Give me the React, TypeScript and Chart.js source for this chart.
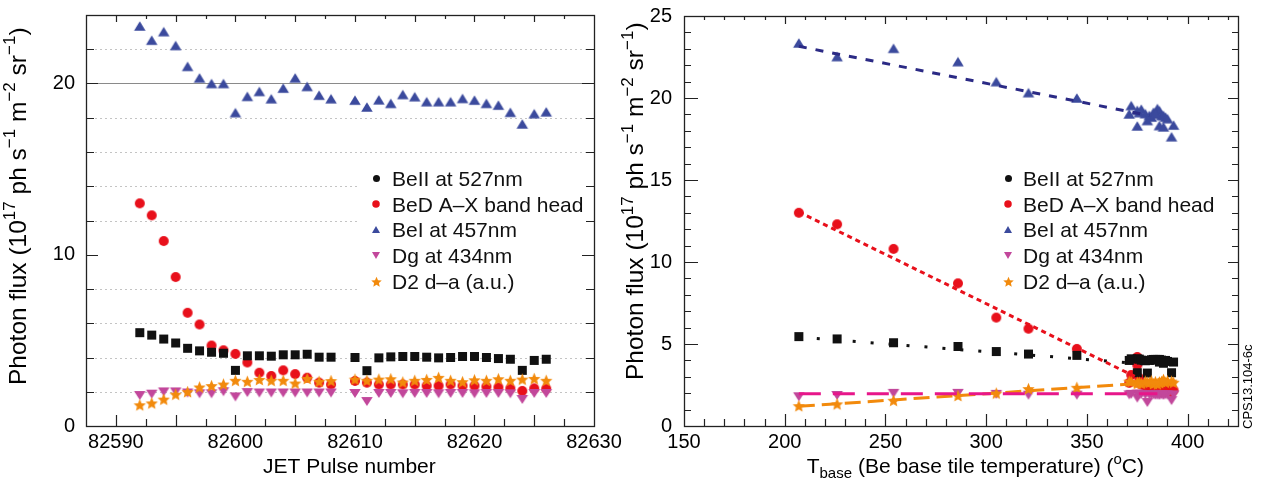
import React, { useEffect, useRef } from 'react';
import { Chart, registerables } from 'chart.js';
Chart.register(...registerables);

// ---------------- data ----------------
const pulses = [82592, 82593, 82594, 82595, 82596, 82597, 82598, 82599, 82600, 82601, 82602, 82603, 82604, 82605, 82606, 82607, 82608,
  82610, 82611, 82612, 82613, 82614, 82615, 82616, 82617, 82618, 82619, 82620, 82621, 82622, 82623, 82624, 82625, 82626];
// base tile temperature of each pulse (null: pulse not shown in the temperature panel)
const tBase: (number | null)[] = [207, 226, 254, 286, 305, 321, 345, null, 375, 375, 372, 376, null, null, null, 377, 384,
  371, 380, 379, 382, 385, 386, 387, 388, 381, 383, 384, 389, 390, 386, 392, 388, 393];
const beII = [5.45, 5.31, 5.08, 4.85, 4.54, 4.39, 4.31, 4.25, 3.25, 4.10, 4.10, 4.08, 4.16, 4.16, 4.19, 4.02, 4.02,
  4.00, 3.23, 3.98, 4.04, 4.06, 4.06, 4.02, 3.98, 4.00, 4.06, 4.06, 4.00, 3.94, 3.90, 3.25, 3.83, 3.90];
const beD = [13.0, 12.3, 10.8, 8.7, 6.61, 5.93, 4.70, 4.42, 4.21, 3.71, 3.11, 2.92, 3.25, 3.03, 2.82, 2.53, 2.42,
  2.63, 2.53, 2.42, 2.42, 2.42, 2.42, 2.35, 2.35, 2.42, 2.35, 2.35, 2.30, 2.26, 2.20, 2.05, 2.20, 2.18];
const beI = [23.36, 22.53, 23.03, 22.22, 21.0, 20.33, 20.0, 20.0, 18.3, 19.25, 19.54, 19.11, 19.73, 20.33, 19.83, 19.32, 19.11,
  19.03, 18.63, 19.05, 18.84, 19.36, 19.23, 18.94, 18.94, 18.94, 19.13, 19.03, 18.84, 18.74, 18.32, 17.64, 18.24, 18.35];
const dg = [1.78, 1.86, 1.99, 1.99, 1.93, 1.88, 1.88, 2.0, 1.70, 1.95, 1.93, 1.93, 1.93, 1.93, 1.93, 1.93, 1.93,
  1.90, 1.43, 1.90, 1.90, 1.88, 1.90, 1.90, 1.88, 1.90, 1.90, 1.88, 1.90, 1.90, 1.88, 1.55, 1.90, 1.90];
const d2 = [1.24, 1.35, 1.57, 1.86, 2.01, 2.28, 2.36, 2.45, 2.67, 2.61, 2.72, 2.67, 2.67, 2.51, 2.78, 2.61, 2.65,
  2.74, 2.67, 2.74, 2.76, 2.57, 2.67, 2.72, 2.84, 2.67, 2.59, 2.70, 2.67, 2.76, 2.67, 2.74, 2.78, 2.67];

// linear fits (end points) on the temperature panel
const fitBeIT = [207, 381];
const fitBeIV = [23.15, 18.93];
const fitBeDT = [207, 375];
const fitBeDV = [13.05, 2.95];
const fitBeIIT = [207, 380];
const fitBeIIV = [5.42, 3.77];
const fitDgT = [207, 385];
const fitDgV = [1.97, 1.97];
const fitD2T = [207, 392];
const fitD2V = [1.2, 2.73];

const seriesNames = ['BeII at 527nm', 'BeD A\u2013X band head', 'BeI at 457nm', 'Dg at 434nm', 'D2 d\u2013a (a.u.)'];

const leftXTicks = [82590, 82600, 82610, 82620, 82630];
const leftYTicks = [0, 10, 20];
const rightXTicks = [150, 200, 250, 300, 350, 400];
const rightYTicks = [0, 5, 10, 15, 20, 25];
const leftGridDotted = [2, 4, 6, 8, 12, 14, 16, 18, 22];
const leftGridSolid = [20];

// ---------------- styling ----------------
const FONT = '"Liberation Sans", Arial, Helvetica, sans-serif';
const C_BLACK = '#111111';
const C_RED = '#e8101b';
const C_BLUE = '#3b4a9d';
const C_MAG = '#c2479b';
const C_ORANGE = '#f28a0c';
const C_BLUEFIT = '#2b2a85';
const C_MAGFIT = '#e7168a';

type Seg = { t: string; k?: 'sup' | 'sub' };

function marker(kind: string, color: string, w: number, h: number): HTMLCanvasElement {
  const c = document.createElement('canvas');
  c.width = Math.ceil(w) + 2;
  c.height = Math.ceil(h) + 2;
  const ctx = c.getContext('2d')!;
  const cx = c.width / 2;
  const cy = c.height / 2;
  ctx.fillStyle = color;
  ctx.beginPath();
  if (kind === 'square') {
    ctx.rect(cx - w / 2, cy - h / 2, w, h);
  } else if (kind === 'circle') {
    ctx.arc(cx, cy, w / 2, 0, Math.PI * 2);
  } else if (kind === 'up') {
    ctx.moveTo(cx, cy - h / 2);
    ctx.lineTo(cx + w / 2, cy + h / 2);
    ctx.lineTo(cx - w / 2, cy + h / 2);
    ctx.closePath();
  } else if (kind === 'down') {
    ctx.moveTo(cx, cy + h / 2);
    ctx.lineTo(cx + w / 2, cy - h / 2);
    ctx.lineTo(cx - w / 2, cy - h / 2);
    ctx.closePath();
  } else if (kind === 'star') {
    const R = w / 2;
    const r = R * 0.46;
    for (let i = 0; i < 10; i++) {
      const a = -Math.PI / 2 + (i * Math.PI) / 5;
      const rr = i % 2 === 0 ? R : r;
      const px = cx + rr * Math.cos(a);
      const py = cy + 0.8 + rr * Math.sin(a);
      if (i === 0) ctx.moveTo(px, py);
      else ctx.lineTo(px, py);
    }
    ctx.closePath();
  }
  ctx.fill();
  return c;
}

function drawRich(ctx: CanvasRenderingContext2D, segs: Seg[], x: number, y: number, size: number, rotate: boolean) {
  ctx.save();
  ctx.translate(x, y);
  if (rotate) ctx.rotate(-Math.PI / 2);
  ctx.fillStyle = '#000';
  ctx.textBaseline = 'alphabetic';
  ctx.textAlign = 'left';
  let cx = 0;
  for (const s of segs) {
    const fs = s.k ? Math.round(size * 0.7) : size;
    ctx.font = `${fs}px ${FONT}`;
    const dy = s.k === 'sup' ? -size * 0.42 : s.k === 'sub' ? size * 0.26 : 0;
    ctx.fillText(s.t, cx, dy);
    cx += ctx.measureText(s.t).width;
  }
  ctx.restore();
}

const yTitle: Seg[] = [
  { t: 'Photon flux (10' }, { t: '17', k: 'sup' }, { t: ' ph s' }, { t: '\u22121', k: 'sup' },
  { t: ' m' }, { t: '\u22122', k: 'sup' }, { t: ' sr' }, { t: '\u22121', k: 'sup' }, { t: ')' },
];
const xTitleLeft: Seg[] = [{ t: 'JET Pulse number' }];
const xTitleRight: Seg[] = [
  { t: 'T' }, { t: 'base', k: 'sub' }, { t: ' (Be base tile temperature) (' }, { t: 'o', k: 'sup' }, { t: 'C)' },
];

interface TickSpec {
  xFrom: number; xTo: number; xStep: number; xMajor: number;
  xBot: [number, number]; xTop: [number, number];
  yFrom: number; yTo: number; yStep: number; yMajor: number;
  yLeft: [number, number]; yRight: [number, number];
}

function drawFrameTicks(chart: any, spec: TickSpec) {
  const ctx: CanvasRenderingContext2D = chart.ctx;
  const a = chart.chartArea;
  const xs = chart.scales.x;
  const ys = chart.scales.y;
  ctx.save();
  ctx.strokeStyle = '#222';
  ctx.lineWidth = 1.2;
  ctx.beginPath();
  for (let v = spec.xFrom; v <= spec.xTo + 1e-6; v += spec.xStep) {
    const px = Math.round(xs.getPixelForValue(v)) + 0.5;
    const maj = Math.abs(v / spec.xMajor - Math.round(v / spec.xMajor)) < 1e-6;
    const lb = maj ? spec.xBot[0] : spec.xBot[1];
    const lt = maj ? spec.xTop[0] : spec.xTop[1];
    ctx.moveTo(px, a.bottom);
    ctx.lineTo(px, a.bottom - lb);
    ctx.moveTo(px, a.top);
    ctx.lineTo(px, a.top + lt);
  }
  for (let v = spec.yFrom; v <= spec.yTo + 1e-6; v += spec.yStep) {
    const py = Math.round(ys.getPixelForValue(v)) + 0.5;
    const maj = Math.abs(v / spec.yMajor - Math.round(v / spec.yMajor)) < 1e-6;
    const ll = maj ? spec.yLeft[0] : spec.yLeft[1];
    const lr = maj ? spec.yRight[0] : spec.yRight[1];
    ctx.moveTo(a.left, py);
    ctx.lineTo(a.left + ll, py);
    ctx.moveTo(a.right, py);
    ctx.lineTo(a.right - lr, py);
  }
  ctx.stroke();
  ctx.lineWidth = 1.3;
  ctx.strokeRect(Math.round(a.left) + 0.5, Math.round(a.top) + 0.5, Math.round(a.right - a.left), Math.round(a.bottom - a.top));
  ctx.restore();
}

const legendMarkers = () => [
  marker('circle', C_BLACK, 7, 7),
  marker('circle', C_RED, 7.5, 7.5),
  marker('up', C_BLUE, 8, 7),
  marker('down', C_MAG, 8, 7),
  marker('star', C_ORANGE, 11, 11),
];

function drawLegend(ctx: CanvasRenderingContext2D, mx: number, tx: number, box: number[] | null) {
  const rows = [178.3, 204.1, 229.9, 255.7, 281.5];
  const mk = legendMarkers();
  ctx.save();
  if (box) {
    ctx.fillStyle = '#ffffff';
    ctx.fillRect(box[0], box[1], box[2], box[3]);
  }
  ctx.font = `21px ${FONT}`;
  ctx.fillStyle = '#111';
  ctx.textBaseline = 'alphabetic';
  ctx.textAlign = 'left';
  rows.forEach((ry, i) => {
    const m = mk[i];
    ctx.drawImage(m, Math.round(mx - m.width / 2), Math.round(ry - m.height / 2));
    ctx.fillText(seriesNames[i], tx, ry + 7.5);
  });
  ctx.restore();
}

function pointSet(label: string, xs: (number | null)[], ys: number[], style: HTMLCanvasElement, order: number) {
  const data: { x: number; y: number }[] = [];
  xs.forEach((x, i) => {
    if (x !== null) data.push({ x, y: ys[i] });
  });
  return {
    label,
    data,
    pointStyle: style,
    pointRadius: 5,
    showLine: false,
    order,
  };
}

function fitSet(xs: number[], ys: number[], color: string, dash: number[]) {
  return {
    label: 'fit',
    data: xs.map((x, i) => ({ x, y: ys[i] })),
    showLine: true,
    pointRadius: 0,
    borderColor: color,
    borderWidth: 3,
    borderDash: dash,
    borderCapStyle: 'butt',
    fill: false,
    order: -1,
  };
}

function tickFont() {
  return { family: FONT, size: 20 };
}

export default function App() {
  const leftRef = useRef<HTMLCanvasElement>(null);
  const rightRef = useRef<HTMLCanvasElement>(null);

  useEffect(() => {
    const mSquare = marker('square', C_BLACK, 9, 9);
    const mCircle = marker('circle', C_RED, 10, 10);
    const mUp = marker('up', C_BLUE, 11.5, 9.5);
    const mDown = marker('down', C_MAG, 11.5, 9);
    const mStar = marker('star', C_ORANGE, 13, 13);

    const leftDeco = {
      id: 'leftDeco',
      beforeDatasetsDraw(chart: any) {
        const ctx: CanvasRenderingContext2D = chart.ctx;
        const ys = chart.scales.y;
        const a = chart.chartArea;
        ctx.save();
        ctx.strokeStyle = '#c4c4c4';
        ctx.lineWidth = 1;
        ctx.setLineDash([2, 3]);
        ctx.beginPath();
        leftGridDotted.forEach((v) => {
          const py = Math.round(ys.getPixelForValue(v)) + 0.5;
          ctx.moveTo(a.left + 9, py);
          ctx.lineTo(a.right - 4, py);
        });
        ctx.stroke();
        ctx.setLineDash([]);
        ctx.strokeStyle = '#8a8a8a';
        ctx.beginPath();
        leftGridSolid.forEach((v) => {
          const py = Math.round(ys.getPixelForValue(v)) + 0.5;
          ctx.moveTo(a.left, py);
          ctx.lineTo(a.right, py);
        });
        ctx.stroke();
        ctx.restore();
      },
      afterDatasetsDraw(chart: any) {
        drawLegend(chart.ctx, 376, 392, [360, 165, 227, 131]);
      },
      afterDraw(chart: any) {
        drawFrameTicks(chart, {
          xFrom: 82590, xTo: 82627.5, xStep: 2.5, xMajor: 5,
          xBot: [11, 7], xTop: [7, 4],
          yFrom: 2, yTo: 22, yStep: 2, yMajor: 10,
          yLeft: [12, 8], yRight: [12, 8],
        });
        drawRich(chart.ctx, yTitle, 25.5, 385, 24.5, true);
        drawRich(chart.ctx, xTitleLeft, 263, 473, 21, false);
      },
    };

    const rightDeco = {
      id: 'rightDeco',
      afterDatasetsDraw(chart: any) {
        drawLegend(chart.ctx, 408, 423, null);
      },
      afterDraw(chart: any) {
        drawFrameTicks(chart, {
          xFrom: 160, xTo: 420, xStep: 10, xMajor: 50,
          xBot: [12, 7], xTop: [8, 4],
          yFrom: 1, yTo: 24, yStep: 1, yMajor: 5,
          yLeft: [14, 7], yRight: [10, 6],
        });
        drawRich(chart.ctx, yTitle, 43, 380, 24.5, true);
        drawRich(chart.ctx, xTitleRight, 206.7, 473, 21, false);
        drawRich(chart.ctx, [{ t: 'CPS13.104-6c' }], 651.5, 429, 13, true);
      },
    };

    const xTickOpts = { autoSkip: false, maxRotation: 0, padding: -4, color: '#000', font: tickFont(), callback: (v: any) => String(v) };

    const left = new Chart(leftRef.current!, {
      type: 'scatter',
      data: {
        datasets: [
          pointSet(seriesNames[4], pulses, d2, mStar, 0),
          pointSet(seriesNames[3], pulses, dg, mDown, 1),
          pointSet(seriesNames[2], pulses, beI, mUp, 2),
          pointSet(seriesNames[0], pulses, beII, mSquare, 3),
          pointSet(seriesNames[1], pulses, beD, mCircle, 4),
        ] as any,
      },
      options: {
        animation: false,
        responsive: false,
        devicePixelRatio: 1,
        layout: { padding: { left: 0, right: 46, top: 13, bottom: 0 } },
        plugins: { legend: { display: false }, tooltip: { enabled: false } },
        scales: {
          x: {
            type: 'linear', min: 82587.5, max: 82630,
            grid: { display: false }, border: { display: false },
            afterBuildTicks: (s: any) => { s.ticks = leftXTicks.map((v) => ({ value: v })); },
            afterFit: (s: any) => { s.height = 58; },
            ticks: xTickOpts,
          },
          y: {
            type: 'linear', min: 0, max: 24,
            grid: { display: false }, border: { display: false },
            afterBuildTicks: (s: any) => { s.ticks = leftYTicks.map((v) => ({ value: v })); },
            afterFit: (s: any) => { s.width = 86; },
            ticks: { autoSkip: false, padding: 3, color: '#000', font: tickFont(), callback: (v: any) => String(v) },
          },
        },
      } as any,
      plugins: [leftDeco],
    });

    const right = new Chart(rightRef.current!, {
      type: 'scatter',
      data: {
        datasets: [
          fitSet(fitBeIT, fitBeIV, C_BLUEFIT, [8, 9]),
          fitSet(fitBeDT, fitBeDV, C_RED, [5, 4]),
          fitSet(fitBeIIT, fitBeIIV, C_BLACK, [3, 15]),
          fitSet(fitDgT, fitDgV, C_MAGFIT, [22, 12]),
          fitSet(fitD2T, fitD2V, C_ORANGE, [16, 7]),
          pointSet(seriesNames[4], tBase, d2, mStar, 0),
          pointSet(seriesNames[3], tBase, dg, mDown, 1),
          pointSet(seriesNames[2], tBase, beI, mUp, 2),
          pointSet(seriesNames[0], tBase, beII, mSquare, 3),
          pointSet(seriesNames[1], tBase, beD, mCircle, 4),
        ] as any,
      },
      options: {
        animation: false,
        responsive: false,
        devicePixelRatio: 1,
        layout: { padding: { left: 0, right: 23, top: 13, bottom: 0 } },
        plugins: { legend: { display: false }, tooltip: { enabled: false } },
        scales: {
          x: {
            type: 'linear', min: 150, max: 425,
            grid: { display: false }, border: { display: false },
            afterBuildTicks: (s: any) => { s.ticks = rightXTicks.map((v) => ({ value: v })); },
            afterFit: (s: any) => { s.height = 58; },
            ticks: xTickOpts,
          },
          y: {
            type: 'linear', min: 0, max: 25,
            grid: { display: false }, border: { display: false },
            afterBuildTicks: (s: any) => { s.ticks = rightYTicks.map((v) => ({ value: v })); },
            afterFit: (s: any) => { s.width = 84; },
            ticks: { autoSkip: false, padding: 4, color: '#000', font: tickFont(), callback: (v: any) => String(v) },
          },
        },
      } as any,
      plugins: [rightDeco],
    });

    return () => {
      left.destroy();
      right.destroy();
    };
  }, []);

  return (
    <div style={{ position: 'fixed', left: 0, top: 0, width: 1261, height: 484, background: '#fff', overflow: 'hidden' }}>
      <canvas ref={leftRef} width={640} height={484} style={{ position: 'absolute', left: 0, top: 0, width: 640, height: 484 }} />
      <canvas ref={rightRef} width={661} height={484} style={{ position: 'absolute', left: 600, top: 0, width: 661, height: 484 }} />
    </div>
  );
}
